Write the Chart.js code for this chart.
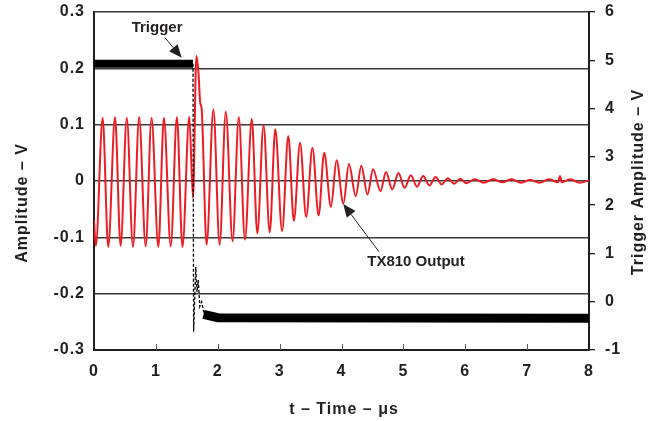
<!DOCTYPE html>
<html><head><meta charset="utf-8">
<script src="https://cdn.jsdelivr.net/npm/chart.js@4"></script>
<style>html,body{margin:0;padding:0;background:#fff;} #wrap{width:656px;height:421px;}</style>
</head><body><div id="wrap"><canvas id="c" width="656" height="421"></canvas></div>
<script>
// ---- tick values / labels ----
const xTicks = [0,1,2,3,4,5,6,7,8];
const xTickLabels = ['0','1','2','3','4','5','6','7','8'];
const leftTicks = [-0.3,-0.2,-0.1,0,0.1,0.2,0.3];
const leftTickLabels = ['-0.3','-0.2','-0.1','0','0.1','0.2','0.3'];
const rightTicks = [-1,0,1,2,3,4,5,6];
const rightTickLabels = ['-1','0','1','2','3','4','5','6'];

// ---- TX810 output (left axis, V) : time in us ----
const outT = [0,0.03,0.14,0.23,0.34,0.43,0.53,0.63,0.73,0.835,0.93,1.04,1.13,1.24,1.34,1.43,1.54,1.60,1.655,1.69,1.715,1.74,1.82,1.93,2.03,2.13,2.24,2.34,2.44,2.55,2.64,2.74,2.84,2.93,3.04,3.14,3.23,3.33,3.43,3.53,3.63,3.72,3.83,3.92,4.03,4.12,4.23,4.32,4.42,4.51,4.63,4.72,4.82,4.92,5.02,5.12,5.22,5.32,5.42,5.52,5.62,5.72,5.82,5.92,6.02,6.15,6.3,6.45,6.6,6.75,6.9,7.05,7.2,7.35,7.5,7.53,7.56,7.7,7.85,8.0];
const outV = [-0.07,-0.115,0.112,-0.117,0.113,-0.115,0.112,-0.117,0.113,-0.116,0.112,-0.117,0.112,-0.116,0.113,-0.117,0.114,-0.03,0.222,0.19,0.14,0.128,-0.113,0.127,-0.113,0.123,-0.107,0.113,-0.104,0.110,-0.093,0.099,-0.091,0.092,-0.089,0.080,-0.071,0.068,-0.064,0.059,-0.061,0.050,-0.046,0.037,-0.040,0.030,-0.027,0.027,-0.024,0.021,-0.018,0.016,-0.015,0.014,-0.012,0.010,-0.010,0.009,-0.008,0.007,-0.006,0.005,-0.005,0.004,-0.004,0.003,-0.003,0.003,-0.002,0.003,-0.003,0.002,-0.003,0.003,-0.002,0.009,-0.002,0.003,-0.003,0.001];

// ---- Trigger (right axis, V) ----
const trigHighT = [0,1.6];
const trigHighV = [4.93,4.93];
const trigEdgeT = [1.6,1.61,1.645,1.665,1.685,1.71,1.74,1.78,1.8];
const trigEdgeV = [4.93,-0.62,0.72,0.2,0.45,-0.1,0.0,-0.25,-0.3];
const trigLowT = [1.77,2.0,8.0];
const trigLowV = [-0.26,-0.33,-0.34];

const FONT = '"Liberation Sans", Arial, Helvetica, sans-serif';
const INK = '#231f20';
const toPts = (T,V) => T.map((t,i)=>({x:t,y:V[i]}));
const setTicks = arr => s => { s.ticks = arr.map(v=>({value:v})); };
const noPad = s => { s.paddingTop = 0; s.paddingBottom = 0; s.paddingLeft = 0; s.paddingRight = 0; };

Chart.defaults.font.family = FONT;
Chart.defaults.font.size = 16;
Chart.defaults.font.weight = 'bold';
Chart.defaults.color = INK;

const notes = [
  {text:'Trigger', tx:1.02, ty:0.2645, ax0:1.147, ay0:0.2544, ax1:1.417, ay1:0.2189},
  {text:'TX810 Output', tx:5.204, ty:-0.150, ax0:4.606, ay0:-0.1255, ax1:4.029, ay1:-0.0408}
];

const spacingPlugin = {
  id:'spacing',
  beforeDraw(chart){ chart.ctx.letterSpacing = '1px'; }
};

const innerTicks = {
  id:'innerTicks',
  beforeDatasetsDraw(chart){
    const {ctx, chartArea, scales:{x}} = chart;
    ctx.save();
    ctx.strokeStyle = '#555';
    ctx.lineWidth = 1;
    xTicks.forEach(v=>{
      if (v===xTicks[0] || v===xTicks[xTicks.length-1]) return;
      const px = Math.round(x.getPixelForValue(v)) + 0.5;
      ctx.beginPath();
      ctx.moveTo(px, chartArea.bottom);
      ctx.lineTo(px, chartArea.bottom - 6);
      ctx.stroke();
    });
    ctx.restore();
  }
};

const annotate = {
  id:'annotate',
  afterDatasetsDraw(chart){
    const {ctx, scales:{x, y}} = chart;
    ctx.save();
    ctx.letterSpacing = '0px';
    ctx.fillStyle = INK; ctx.strokeStyle = INK;
    ctx.font = 'bold 15px ' + FONT;
    ctx.textAlign = 'center'; ctx.textBaseline = 'alphabetic';
    notes.forEach(n=>{
      ctx.fillText(n.text, x.getPixelForValue(n.tx), y.getPixelForValue(n.ty));
      const x0 = x.getPixelForValue(n.ax0), y0 = y.getPixelForValue(n.ay0);
      const x1 = x.getPixelForValue(n.ax1), y1 = y.getPixelForValue(n.ay1);
      const a = Math.atan2(y1-y0, x1-x0);
      const L = 13, W = 5.5;
      const bx = x1 - L*Math.cos(a), by = y1 - L*Math.sin(a);
      ctx.lineWidth = 1;
      ctx.beginPath(); ctx.moveTo(x0,y0); ctx.lineTo(bx,by); ctx.stroke();
      ctx.beginPath();
      ctx.moveTo(x1,y1);
      ctx.lineTo(bx + W*Math.sin(a), by - W*Math.cos(a));
      ctx.lineTo(bx - W*Math.sin(a), by + W*Math.cos(a));
      ctx.closePath(); ctx.fill();
    });
    ctx.restore();
  }
};

const titles = {
  id:'titles',
  afterDraw(chart){
    const ctx = chart.ctx;
    ctx.save();
    ctx.letterSpacing = '1px';
    ctx.fillStyle = INK;
    ctx.font = 'bold 16px ' + FONT;
    ctx.textAlign = 'center'; ctx.textBaseline = 'alphabetic';
    ctx.fillText('t \u2013 Time \u2013 \u03BCs', 344, 413.5);
    ctx.save(); ctx.translate(26.5, 203); ctx.rotate(-Math.PI/2);
    ctx.fillText('Amplitude \u2013 V', 0, 0); ctx.restore();
    ctx.save(); ctx.translate(643, 182); ctx.rotate(-Math.PI/2);
    ctx.fillText('Trigger Amplitude \u2013 V', 0, 0); ctx.restore();
    ctx.restore();
  }
};

new Chart(document.getElementById('c'), {
  type:'line',
  data:{datasets:[
    {label:'Trigger', data:toPts(trigHighT,trigHighV), yAxisID:'yR', borderColor:'#000', borderWidth:8, borderCapStyle:'butt', pointRadius:0, order:0},
    {label:'Trigger edge', data:toPts(trigEdgeT,trigEdgeV), yAxisID:'yR', borderColor:'#000', borderWidth:1.3, borderDash:[3,2], pointRadius:0, order:0},
    {label:'Trigger low', data:toPts(trigLowT,trigLowV), yAxisID:'yR', borderColor:'#000', borderWidth:9, borderCapStyle:'butt', pointRadius:0, order:0},
    {label:'TX810 Output', data:toPts(outT,outV), yAxisID:'y', borderColor:'#ed1c24', borderWidth:2, cubicInterpolationMode:'monotone', pointRadius:0, order:1}
  ]},
  options:{
    responsive:false, animation:false, devicePixelRatio:1,
    layout:{padding:{top:12,left:0,right:0,bottom:0}},
    plugins:{legend:{display:false}, tooltip:{enabled:false}},
    scales:{
      x:{type:'linear', position:'bottom', min:0, max:8,
         afterBuildTicks:setTicks(xTicks),
         ticks:{callback:(v,i)=>xTickLabels[i], padding:12, maxRotation:0, autoSkip:false},
         grid:{display:false, drawTicks:false},
         border:{display:true, color:INK, width:2},
         afterFit:s=>{noPad(s); s.height=71;}},
      y:{type:'linear', position:'left', min:-0.3, max:0.3,
         afterBuildTicks:setTicks(leftTicks),
         ticks:{callback:(v,i)=>leftTickLabels[i], padding:9, autoSkip:false},
         grid:{color:'#3a3a3a', lineWidth:1.4, drawTicks:false},
         border:{display:true, color:INK, width:2},
         afterFit:s=>{noPad(s); s.width=94;}},
      yR:{type:'linear', position:'right', min:-1, max:6,
         afterBuildTicks:setTicks(rightTicks),
         ticks:{callback:(v,i)=>rightTickLabels[i], padding:10, autoSkip:false},
         grid:{drawOnChartArea:false, drawTicks:true, tickLength:6, color:INK, lineWidth:1.3},
         border:{display:true, color:INK, width:2},
         afterFit:s=>{noPad(s); s.width=67;}}
    }
  },
  plugins:[spacingPlugin, innerTicks, annotate, titles]
});
</script>
</body></html>
